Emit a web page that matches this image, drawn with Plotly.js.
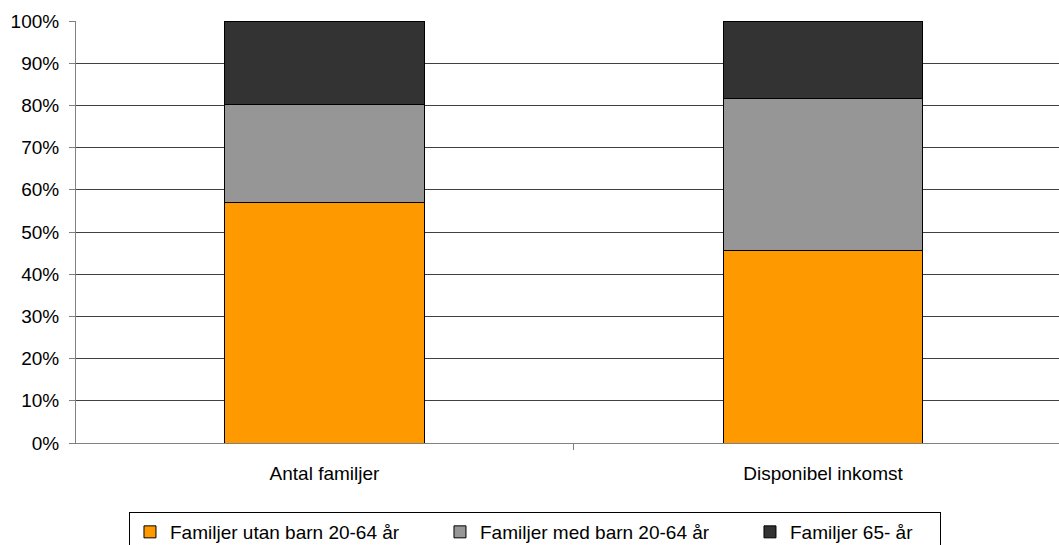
<!DOCTYPE html>
<html>
<head>
<meta charset="utf-8">
<script src="https://cdn.plot.ly/plotly-3.0.1.min.js"></script>
<style>html,body{margin:0;padding:0;background:#fff;}#chart{width:1059px;height:545px;}</style>
</head>
<body>
<div id="chart"></div>
<script>
const categories = ["Antal familjer", "Disponibel inkomst"];
const seriesNames = ["Familjer utan barn 20-64 år", "Familjer med barn 20-64 år", "Familjer 65- år"];
const utanBarn = [57.0, 45.7];
const medBarn = [23.2, 35.9];
const aldre = [19.8, 18.4];
const seriesColors = ["#FF9900", "#969696", "#333333"];
const legendWidths = [265, 265, 145];

const values = [utanBarn, medBarn, aldre];
const traces = values.map((v, i) => ({
  type: 'bar',
  name: seriesNames[i],
  x: categories,
  y: v,
  width: 0.4,
  marker: {color: seriesColors[i], line: {color: '#000000', width: 1}},
  legendwidth: legendWidths[i],
  hoverinfo: 'none'
}));

const font = {family: 'Liberation Sans, Arial, sans-serif', size: 19, color: '#000'};
const layout = {
  width: 1059, height: 545,
  margin: {l: 76, r: 0, t: 21, b: 102, pad: 0, autoexpand: false},
  barmode: 'stack',
  paper_bgcolor: '#fff', plot_bgcolor: '#fff',
  font: font,
  showlegend: true,
  xaxis: {
    type: 'category',
    range: [-0.4985, 1.4734],
    tickson: 'boundaries',
    ticks: 'outside', ticklen: 6, tickcolor: '#808080',
    showline: true, linecolor: '#808080', linewidth: 1,
    showgrid: false, zeroline: false,
    ticklabelstandoff: 13,
    tickfont: font
  },
  yaxis: {
    range: [0, 100],
    dtick: 10,
    ticksuffix: '%',
    ticks: 'outside', ticklen: 6, tickcolor: '#808080',
    showline: true, linecolor: '#808080', linewidth: 1,
    showgrid: true, gridcolor: '#404040', gridwidth: 1,
    zeroline: false,
    ticklabelstandoff: 6,
    tickfont: font
  },
  legend: {
    orientation: 'h',
    x: 0.0539, xanchor: 'left',
    y: -0.1635, yanchor: 'top',
    bordercolor: '#000', borderwidth: 1,
    bgcolor: '#fff',
    font: font,
    traceorder: 'normal'
  }
};

Plotly.newPlot('chart', traces, layout, {staticPlot: true, displayModeBar: false});
</script>
</body>
</html>
